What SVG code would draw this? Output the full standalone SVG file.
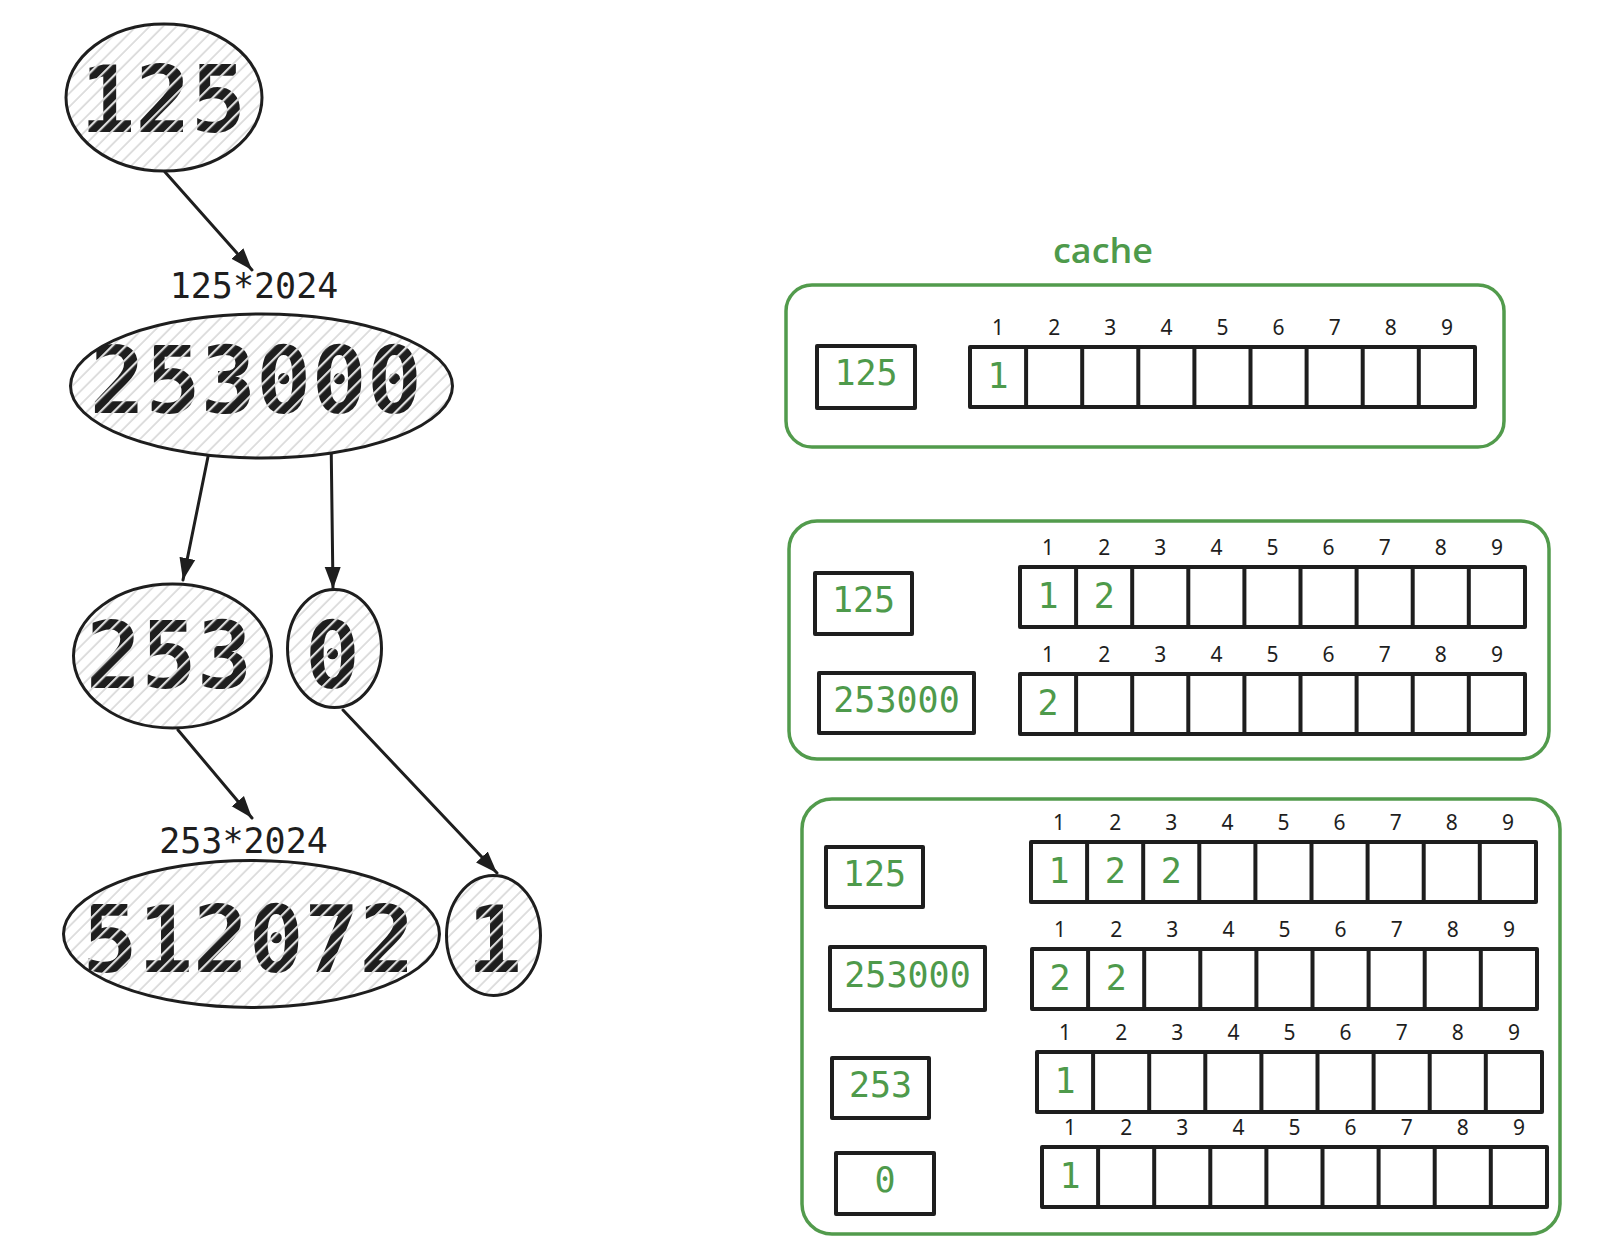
<svg xmlns="http://www.w3.org/2000/svg" xmlns:xlink="http://www.w3.org/1999/xlink" width="1598" height="1256" viewBox="0 0 1598 1256">
<style>
  .node ellipse { fill: url(#hatch); stroke: #1e1e1e; stroke-width: 3; }
  .big { font-family: "DejaVu Sans Mono", "Liberation Mono", monospace; font-weight: bold; font-size: 92px; fill: #1e1e1e; text-anchor: middle; }
  .lbl { font-family: "DejaVu Sans Mono", "Liberation Mono", monospace; font-size: 35px; fill: #1e1e1e; text-anchor: middle; }
  .edge { fill: none; stroke: #1e1e1e; stroke-width: 3; stroke-linecap: round; }
  .panel { fill: none; stroke: #529b4c; stroke-width: 3.5; }
  .box { fill: none; stroke: #1e1e1e; stroke-width: 4; stroke-linejoin: round; }
  .val { font-family: "DejaVu Sans Mono", "Liberation Mono", monospace; font-size: 35px; fill: #4e9a4b; text-anchor: middle; }
  .idx { font-family: "Noto Sans", "Liberation Sans", sans-serif; font-size: 21px; fill: #1e1e1e; text-anchor: middle; }
  .title { font-family: "Open Sans", "Liberation Sans", sans-serif; font-size: 34px; font-weight: 600; fill: #4e9a4b; }
</style>
<defs>
  <pattern id="hatch" patternUnits="userSpaceOnUse" width="9.5" height="9.5" patternTransform="rotate(45)">
    <rect width="9.5" height="9.5" fill="#ffffff"/>
    <line x1="1" y1="0" x2="1" y2="9.5" stroke="#cacaca" stroke-width="1.2"/>
  </pattern>
  <pattern id="hatchCut" patternUnits="userSpaceOnUse" width="9.5" height="9.5" patternTransform="rotate(45)">
    <line x1="1" y1="0" x2="1" y2="9.5" stroke="#000000" stroke-width="2.2"/>
  </pattern>
  <mask id="cut" maskUnits="userSpaceOnUse" x="0" y="0" width="1598" height="1256">
    <rect x="0" y="0" width="1598" height="1256" fill="#ffffff"/>
    <rect x="0" y="0" width="1598" height="1256" fill="url(#hatchCut)"/>
  </mask>
  <marker id="arrow" markerUnits="userSpaceOnUse" markerWidth="24" markerHeight="18" refX="22" refY="9" orient="auto">
    <path d="M0,1 L22,9 L0,17 z" fill="#1e1e1e"/>
  </marker>
  <g id="arr">
    <rect x="0" y="0" width="505" height="60" class="box"/>
    <path class="box" d="M56.1,0V60M112.2,0V60M168.3,0V60M224.4,0V60M280.5,0V60M336.6,0V60M392.7,0V60M448.8,0V60"/>
    <g class="idx">
      <text x="28" y="-12">1</text>
      <text x="84.2" y="-12">2</text>
      <text x="140.3" y="-12">3</text>
      <text x="196.4" y="-12">4</text>
      <text x="252.5" y="-12">5</text>
      <text x="308.6" y="-12">6</text>
      <text x="364.7" y="-12">7</text>
      <text x="420.8" y="-12">8</text>
      <text x="476.9" y="-12">9</text>
    </g>
  </g>
</defs>
<rect x="0" y="0" width="1598" height="1256" fill="#ffffff"/>

<g id="connectors">
  <line class="edge" x1="165" y1="172" x2="252" y2="270" marker-end="url(#arrow)"/>
  <line class="edge" x1="213" y1="432" x2="183" y2="580" marker-end="url(#arrow)"/>
  <line class="edge" x1="331" y1="433" x2="333" y2="589" marker-end="url(#arrow)"/>
  <line class="edge" x1="178" y1="730" x2="252" y2="818" marker-end="url(#arrow)"/>
  <line class="edge" x1="343" y1="710" x2="497" y2="873" marker-end="url(#arrow)"/>
  <text class="lbl" x="254" y="298">125*2024</text>
  <text class="lbl" x="243.5" y="853">253*2024</text>
</g>

<g id="n125" class="node">
  <ellipse cx="164" cy="97.5" rx="98" ry="73.5"/>
  <text class="big" x="163" y="132" mask="url(#cut)">125</text>
</g>
<g id="n253000" class="node">
  <ellipse cx="261.5" cy="386" rx="191" ry="72"/>
  <text class="big" x="256" y="413" mask="url(#cut)">253000</text>
</g>
<g id="n253" class="node">
  <ellipse cx="172.5" cy="656" rx="99" ry="72"/>
  <text class="big" x="169" y="688" mask="url(#cut)">253</text>
</g>
<g id="n0" class="node">
  <ellipse cx="334.5" cy="648.5" rx="47" ry="59"/>
  <text class="big" x="332.5" y="688" mask="url(#cut)">0</text>
</g>
<g id="n512072" class="node">
  <ellipse cx="251.5" cy="934" rx="188" ry="73.5"/>
  <text class="big" x="248.5" y="972" mask="url(#cut)">512072</text>
</g>
<g id="n1" class="node">
  <ellipse cx="493.5" cy="935.5" rx="47" ry="60"/>
  <text class="big" x="494.5" y="972" mask="url(#cut)">1</text>
</g>

<g id="cache-title">
  <text class="title" x="1053" y="263" textLength="100" lengthAdjust="spacingAndGlyphs">cache</text>
</g>

<g id="cache1">
  <rect class="panel" x="786" y="285" width="718" height="162" rx="26" ry="26"/>
  <g id="cache1-key125">
    <rect class="box" x="817" y="346" width="98" height="62"/>
    <text class="val" x="866" y="385">125</text>
  </g>
  <g id="cache1-arr125">
    <use xlink:href="#arr" href="#arr" x="970" y="347"/>
    <text class="val" x="998" y="388">1</text>
  </g>
</g>

<g id="cache2">
  <rect class="panel" x="789" y="521" width="760" height="238" rx="28" ry="28"/>
  <g id="cache2-key125">
    <rect class="box" x="815" y="573" width="97" height="61"/>
    <text class="val" x="863.5" y="612">125</text>
  </g>
  <g id="cache2-key253000">
    <rect class="box" x="819" y="673" width="155" height="60"/>
    <text class="val" x="896.5" y="712">253000</text>
  </g>
  <g id="cache2-arr125">
    <use xlink:href="#arr" href="#arr" x="1020" y="567"/>
    <text class="val" x="1048" y="608">1</text>
    <text class="val" x="1104.2" y="608">2</text>
  </g>
  <g id="cache2-arr253000">
    <use xlink:href="#arr" href="#arr" x="1020" y="674"/>
    <text class="val" x="1048" y="715">2</text>
  </g>
</g>

<g id="cache3">
  <rect class="panel" x="802" y="799" width="758" height="435" rx="30" ry="30"/>
  <g id="cache3-key125">
    <rect class="box" x="826" y="847" width="97" height="60"/>
    <text class="val" x="874.5" y="886">125</text>
  </g>
  <g id="cache3-key253000">
    <rect class="box" x="830" y="947" width="155" height="63"/>
    <text class="val" x="907.5" y="987">253000</text>
  </g>
  <g id="cache3-key253">
    <rect class="box" x="832" y="1058" width="97" height="60"/>
    <text class="val" x="880.5" y="1097">253</text>
  </g>
  <g id="cache3-key0">
    <rect class="box" x="836" y="1153" width="98" height="61"/>
    <text class="val" x="885" y="1192">0</text>
  </g>
  <g id="cache3-arr125">
    <use xlink:href="#arr" href="#arr" x="1031" y="842"/>
    <text class="val" x="1059" y="883">1</text>
    <text class="val" x="1115.2" y="883">2</text>
    <text class="val" x="1171.3" y="883">2</text>
  </g>
  <g id="cache3-arr253000">
    <use xlink:href="#arr" href="#arr" x="1032" y="949"/>
    <text class="val" x="1060" y="990">2</text>
    <text class="val" x="1116.2" y="990">2</text>
  </g>
  <g id="cache3-arr253">
    <use xlink:href="#arr" href="#arr" x="1037" y="1052"/>
    <text class="val" x="1065" y="1093">1</text>
  </g>
  <g id="cache3-arr0">
    <use xlink:href="#arr" href="#arr" x="1042" y="1147"/>
    <text class="val" x="1070" y="1188">1</text>
  </g>
</g>
</svg>
